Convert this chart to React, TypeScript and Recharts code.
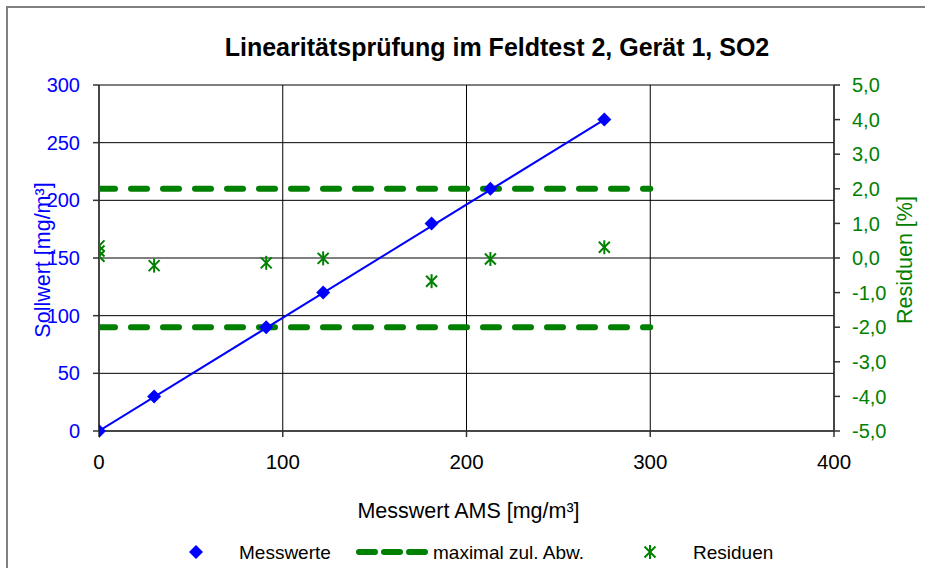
import React from 'react';
import { ComposedChart, Scatter, XAxis, YAxis, CartesianGrid } from 'recharts';

const xTicks = [0, 100, 200, 300, 400];
const leftTicks = [0, 50, 100, 150, 200, 250, 300];
const rightTicks = [-5, -4, -3, -2, -1, 0, 1, 2, 3, 4, 5];

const messX = [0, 30, 91, 122, 181, 213, 275];
const messY = [0, 30, 90, 120, 180, 210, 270];

const trendX = [0, 275];
const trendY = [0, 270];

const resX = [0, 0, 0, 30, 91, 122, 181, 213, 275];
const resY = [0.35, 0.2, 0.05, -0.22, -0.14, -0.01, -0.67, -0.03, 0.31];

const limX = [0, 300];
const upperY = [2, 2];
const lowerY = [-2, -2];

const zip = (xs: number[], ys: number[]) => xs.map((x, i) => ({ x, y: ys[i] }));

const messData = zip(messX, messY);
const trendData = zip(trendX, trendY);
const resData = zip(resX, resY);
const upperData = zip(limX, upperY);
const lowerData = zip(limX, lowerY);

const FONT = '"Liberation Sans", Arial, sans-serif';
const BLUE = '#0000FF';
const GREEN = '#008000';

const Diamond = (p: any) => {
  const { cx, cy } = p;
  if (cx == null || cy == null) return <g />;
  const r = 7;
  return <polygon points={`${cx},${cy - r} ${cx + r},${cy} ${cx},${cy + r} ${cx - r},${cy}`} fill={BLUE} />;
};

const Star = (p: any) => {
  const { cx, cy } = p;
  if (cx == null || cy == null) return <g />;
  const a = 5.5;
  return (
    <g stroke={GREEN} strokeWidth={2}>
      <line x1={cx - a} y1={cy - a} x2={cx + a} y2={cy + a} />
      <line x1={cx - a} y1={cy + a} x2={cx + a} y2={cy - a} />
      <line x1={cx} y1={cy - 7} x2={cx} y2={cy + 7} />
    </g>
  );
};

const NoShape = () => <g />;

const fmtComma = (v: number) => v.toFixed(1).replace('.', ',');

const LeftLabel = (props: any) => {
  const vb = props.viewBox || {};
  const cx = vb.x + vb.width / 2 - 7;
  const cy = vb.y + vb.height / 2 + 2;
  return (
    <text x={cx} y={cy} transform={`rotate(-90 ${cx} ${cy})`} textAnchor="middle" dominantBaseline="central"
      fill={BLUE} fontSize={21.5} fontFamily={FONT}>
      Sollwert [mg/m³]
    </text>
  );
};

const RightLabel = (props: any) => {
  const vb = props.viewBox || {};
  const cx = vb.x + vb.width / 2 + 25;
  const cy = vb.y + vb.height / 2 + 2;
  return (
    <text x={cx} y={cy} transform={`rotate(-90 ${cx} ${cy})`} textAnchor="middle" dominantBaseline="central"
      fill={GREEN} fontSize={21.5} fontFamily={FONT}>
      Residuen [%]
    </text>
  );
};

const BottomLabel = (props: any) => {
  const vb = props.viewBox || {};
  const cx = vb.x + vb.width / 2;
  return (
    <text x={cx + 2} y={511} textAnchor="middle" dominantBaseline="central" fill="#000" fontSize={21.5} fontFamily={FONT}>
      Messwert AMS [mg/m³]
    </text>
  );
};

export default function App() {
  return (
    <div style={{ position: 'absolute', left: 0, top: 0, width: 925, height: 568, overflow: 'hidden', background: '#fff', fontFamily: FONT }}>
      <div style={{ position: 'absolute', left: 6, top: 6, width: 925, height: 568, borderLeft: '2px solid #808080', borderTop: '2px solid #808080' }} />
      <div style={{ position: 'absolute', left: 0, width: 994, top: 32, textAlign: 'center', fontWeight: 'bold', fontSize: 25, lineHeight: '30px', color: '#000' }}>
        Linearitätsprüfung im Feldtest 2, Gerät 1, SO2
      </div>
      <div style={{ position: 'absolute', left: 0, top: 0 }}>
        <ComposedChart width={925} height={568} margin={{ top: 85, right: 0, bottom: 97, left: 0 }}>
          <CartesianGrid yAxisId="left" stroke="#000" strokeWidth={1} />
          <XAxis dataKey="x" type="number" domain={[0, 400]} ticks={xTicks} allowDataOverflow
            height={40} tickSize={6} tickMargin={17} stroke="#333" strokeWidth={1.5}
            tick={{ fill: '#000', fontSize: 20.5, fontFamily: FONT }} label={<BottomLabel />} />
          <YAxis yAxisId="left" dataKey="y" type="number" domain={[0, 300]} ticks={leftTicks} width={99}
            tickSize={6} tickMargin={13} stroke="#333" strokeWidth={1.5}
            tick={{ fill: BLUE, fontSize: 20, fontFamily: FONT }} label={<LeftLabel />} />
          <YAxis yAxisId="right" orientation="right" dataKey="y" type="number" domain={[-5, 5]} ticks={rightTicks} width={91}
            tickSize={6} tickMargin={12} stroke="#333" strokeWidth={1.5} tickFormatter={fmtComma}
            tick={{ fill: GREEN, fontSize: 20, fontFamily: FONT }} label={<RightLabel />} />
          <Scatter yAxisId="right" data={upperData} dataKey="y" shape={NoShape} isAnimationActive={false}
            line={{ stroke: GREEN, strokeWidth: 6, strokeDasharray: '16 16', strokeLinecap: 'round' }} />
          <Scatter yAxisId="right" data={lowerData} dataKey="y" shape={NoShape} isAnimationActive={false}
            line={{ stroke: GREEN, strokeWidth: 6, strokeDasharray: '16 16', strokeLinecap: 'round' }} />
          <Scatter yAxisId="left" data={trendData} dataKey="y" shape={NoShape} isAnimationActive={false}
            line={{ stroke: BLUE, strokeWidth: 2 }} />
          <Scatter yAxisId="left" data={messData} dataKey="y" shape={Diamond} isAnimationActive={false} />
          <Scatter yAxisId="right" data={resData} dataKey="y" shape={Star} isAnimationActive={false} />
        </ComposedChart>
      </div>
      <div style={{ position: 'absolute', left: 0, top: 0, width: 925, height: 568, pointerEvents: 'none' }}>
        <svg width={925} height={568} style={{ position: 'absolute', left: 0, top: 0 }}>
          <Diamond cx={196} cy={552} />
          <line x1={359} y1={552} x2={425} y2={552} stroke={GREEN} strokeWidth={6} strokeDasharray="16 9" strokeLinecap="round" />
          <Star cx={650} cy={552} />
          <text x={239} y={552} dominantBaseline="central" fontSize={19} fontFamily={FONT} fill="#000">Messwerte</text>
          <text x={433} y={552} dominantBaseline="central" fontSize={19} fontFamily={FONT} fill="#000">maximal zul. Abw.</text>
          <text x={693} y={552} dominantBaseline="central" fontSize={19} fontFamily={FONT} fill="#000">Residuen</text>
        </svg>
      </div>
    </div>
  );
}
